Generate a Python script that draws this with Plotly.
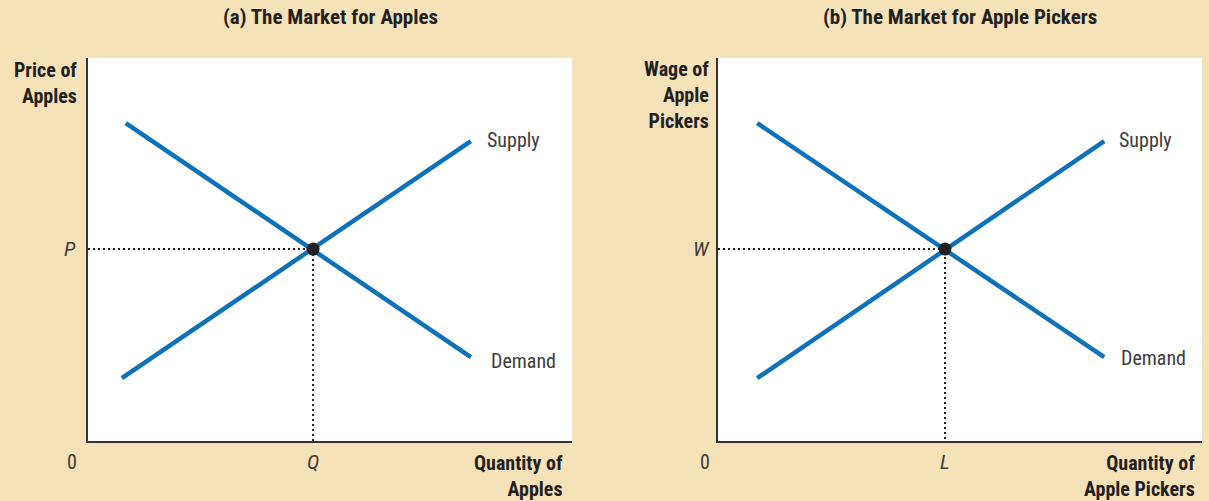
import plotly.graph_objects as go

# curve end points (x from 0..10, y from 0..10 in each panel)
demand_a_x = [0.78, 7.91]
demand_a_y = [8.30, 2.19]
supply_a_x = [0.70, 7.91]
supply_a_y = [1.64, 7.83]
eq_a = (4.65, 5.01)

demand_b_x = [0.81, 7.98]
demand_b_y = [8.30, 2.19]
supply_b_x = [0.81, 7.98]
supply_b_y = [1.64, 7.83]
eq_b = (4.69, 5.01)

BLUE = "#0D72BA"
INK = "#231F20"
GREY = "#3C3C3C"
BG = "#F5E2B8"
FONT = "Liberation Sans Narrow, Roboto Condensed, DejaVu Sans Condensed, Open Sans, sans-serif"
W, H = 1209, 501

fig = go.Figure()


def add_panel(xa, ya, dx, dy, sx, sy, eq):
    fig.add_trace(go.Scatter(x=dx, y=dy, mode="lines", xaxis=xa, yaxis=ya,
                             line=dict(color=BLUE, width=4.5), hoverinfo="skip"))
    fig.add_trace(go.Scatter(x=sx, y=sy, mode="lines", xaxis=xa, yaxis=ya,
                             line=dict(color=BLUE, width=4.5), hoverinfo="skip"))
    fig.add_trace(go.Scatter(x=[0, eq[0], eq[0]], y=[eq[1], eq[1], 0], mode="lines",
                             xaxis=xa, yaxis=ya,
                             line=dict(color=INK, width=2, dash="2px,3px"), hoverinfo="skip"))
    fig.add_trace(go.Scatter(x=[eq[0]], y=[eq[1]], mode="markers", xaxis=xa, yaxis=ya,
                             marker=dict(color=INK, size=13), hoverinfo="skip"))


add_panel("x", "y", demand_a_x, demand_a_y, supply_a_x, supply_a_y, eq_a)
add_panel("x2", "y2", demand_b_x, demand_b_y, supply_b_x, supply_b_y, eq_b)

axis_common = dict(range=[0, 10], showgrid=False, zeroline=False, showticklabels=False,
                   ticks="", fixedrange=True, showline=True,
                   linecolor="#333333", linewidth=1.5)
ydom = [(H - 441) / H, (H - 58) / H]

fig.update_layout(
    width=W, height=H,
    margin=dict(l=0, r=0, t=0, b=0),
    paper_bgcolor=BG, plot_bgcolor="white",
    showlegend=False,
    font=dict(family=FONT, color=INK, size=18),
    xaxis=dict(domain=[88 / W, 572 / W], anchor="y", **axis_common),
    yaxis=dict(domain=ydom, anchor="x", **axis_common),
    xaxis2=dict(domain=[718 / W, 1202 / W], anchor="y2", **axis_common),
    yaxis2=dict(domain=ydom, anchor="x2", **axis_common),
)

ann = []


def txt(text, px, py, xanchor="center", yanchor="middle", bold=False,
        italic=False, size=18, align="center"):
    # px, py are pixel positions on the page
    color = INK if bold else GREY
    if bold:
        text = "<b>" + text + "</b>"
    if italic:
        text = "<i>" + text + "</i>"
    ann.append(dict(text=text, x=px / W, y=1 - py / H, xref="paper", yref="paper",
                    xanchor=xanchor, yanchor=yanchor, showarrow=False, align=align,
                    font=dict(size=size, family=FONT, color=color)))


# titles
txt("(a) The Market for Apples", 330, 17, bold=True, size=21)
txt("(b) The Market for Apple Pickers", 960, 17, bold=True, size=21)

# panel a
txt("Price of<br>Apples", 79, 56, xanchor="right", yanchor="top", bold=True, size=20, align="right")
txt("P", 78, 249, xanchor="right", italic=True, size=21)
txt("0", 72, 462, size=20)
txt("Q", 313, 462, italic=True, size=21)
txt("Quantity of<br>Apples", 565, 449, xanchor="right", yanchor="top", bold=True, size=20, align="right")
txt("Supply", 485, 140, xanchor="left", size=20)
txt("Demand", 489, 361, xanchor="left", size=20)

# panel b
txt("Wage of<br>Apple<br>Pickers", 711, 55, xanchor="right", yanchor="top", bold=True, size=20, align="right")
txt("W", 712, 249, xanchor="right", italic=True, size=21)
txt("0", 705, 462, size=20)
txt("L", 945, 462, italic=True, size=21)
txt("Quantity of<br>Apple Pickers", 1197, 449, xanchor="right", yanchor="top", bold=True, size=20, align="right")
txt("Supply", 1117, 140, xanchor="left", size=20)
txt("Demand", 1119, 358, xanchor="left", size=20)

fig.update_layout(annotations=ann)

fig.write_html("out.html", config={"displayModeBar": False},
               post_script="document.body.style.margin='0';")
